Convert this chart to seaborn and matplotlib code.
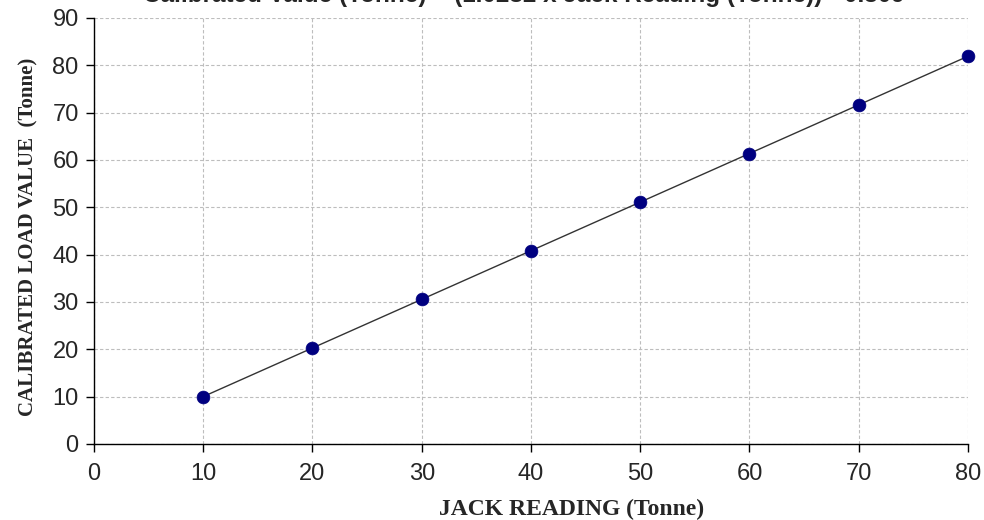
import numpy as np
import matplotlib
matplotlib.use("Agg")
import matplotlib.pyplot as plt
import seaborn as sns

# values
jack_reading = [10, 20, 30, 40, 50, 60, 70, 80]
calibrated_load = [10.0, 20.3, 30.6, 40.8, 51.1, 61.3, 71.6, 82.0]
x_ticks = list(range(0, 81, 10))
y_ticks = list(range(0, 91, 10))
title_text = "Calibrated Value (Tonne) = (1.0282 x Jack Reading (Tonne)) - 0.309"


def main():
    sns.set_style("white")
    plt.rcParams["font.family"] = ["Liberation Sans", "DejaVu Sans"]

    fig = plt.figure(figsize=(9.84, 5.2), dpi=100)
    ax = fig.add_axes([0.0955, 0.1462, 0.8882, 0.8192])

    sns.regplot(
        x=jack_reading, y=calibrated_load, ax=ax, ci=None, truncate=True,
        scatter_kws=dict(color="#000080", s=85, alpha=1, edgecolor="#000080",
                         linewidths=0.5, zorder=3, clip_on=False),
        line_kws=dict(color="#333333", linewidth=1.0, zorder=2),
    )

    ax.set_xlim(0, 80)
    ax.set_ylim(0, 90)
    ax.set_xticks(x_ticks)
    ax.set_yticks(y_ticks)
    ax.tick_params(axis="both", direction="out", length=6, width=1, color="black",
                   labelsize=17, bottom=True, left=True)
    ax.tick_params(axis="x", pad=8)
    ax.tick_params(axis="y", pad=5)
    ax.grid(True, linestyle=(0, (3, 2)), color="#bdbdbd", linewidth=0.8)
    ax.set_axisbelow(True)

    for side in ["top", "right"]:
        ax.spines[side].set_visible(False)
    for side in ["left", "bottom"]:
        ax.spines[side].set_color("black")
        ax.spines[side].set_linewidth(1.0)

    serif = ["Liberation Serif", "DejaVu Serif"]
    ax.set_xlabel("JACK READING (Tonne)", family=serif, fontweight="bold", fontsize=17)
    ax.xaxis.set_label_coords(0.546, -0.128)
    ax.set_ylabel("CALIBRATED LOAD VALUE  (Tonne)", family=serif, fontweight="bold", fontsize=15)
    ax.yaxis.set_label_coords(-0.063, 0.485)

    # title sits partly above the visible canvas, as in the reference
    fig.text(0.532, 0.996, title_text, ha="center", va="baseline", fontsize=17.5, fontweight="bold")

    fig.savefig("out.png", dpi=100)


if __name__ == "__main__":
    main()
